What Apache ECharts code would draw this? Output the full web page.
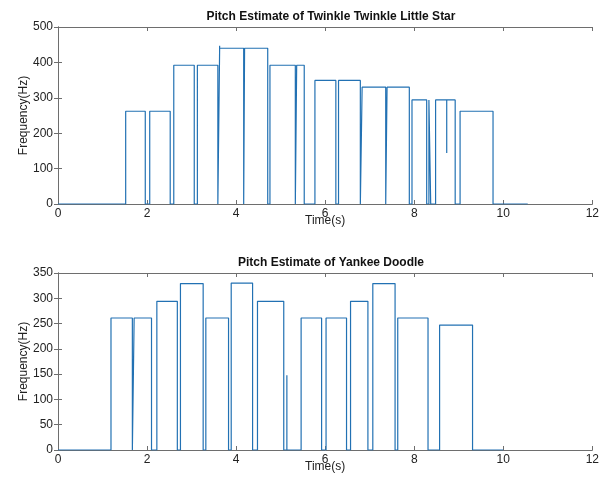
<!DOCTYPE html>
<html>
<head>
<meta charset="utf-8">
<script src="https://cdn.jsdelivr.net/npm/echarts@6/dist/echarts.min.js"></script>
<style>
html, body { margin: 0; padding: 0; background: #fff; }
#chartDom { width: 602px; height: 477px; }
</style>
</head>
<body>
<div id="chartDom"></div>
<script>
// note onsets / offsets (s) and pitch (Hz)
var twinkleOn  = [1.52, 2.06, 2.60, 3.13, 3.63, 4.19, 4.76, 5.36, 5.77, 6.30, 6.83, 7.39, 7.95, 8.33, 8.48, 9.03];
var twinkleOff = [1.96, 2.52, 3.06, 3.59, 4.17, 4.71, 5.33, 5.53, 6.24, 6.79, 7.36, 7.89, 8.28, 8.37, 8.92, 9.77];
var twinkleHz  = [262, 262, 392, 392, 440, 440, 392, 392, 349, 349, 330, 330, 294, 294, 294, 262];
var twinkleGlitchT  = [3.63, 8.73];
var twinkleGlitchHz = [447, 144];
var twinkleEnd = 10.55;

var yankeeOn  = [1.19, 1.71, 2.22, 2.75, 3.32, 3.89, 4.48, 5.46, 6.02, 6.57, 7.07, 7.63, 8.57];
var yankeeOff = [1.67, 2.10, 2.68, 3.26, 3.83, 4.37, 5.07, 5.92, 6.48, 6.96, 7.57, 8.31, 9.31];
var yankeeHz  = [261, 261, 294, 329, 261, 330, 294, 261, 261, 294, 329, 261, 247];
var yankeeGlitchT  = [5.14];
var yankeeGlitchHz = [148];
var yankeeEnd = 10.0;

var xTicks = [0, 2, 4, 6, 8, 10, 12];

var myChart = echarts.init(document.getElementById('chartDom'));

// turn the notes into a step trace that drops to 0 between notes
function buildTrace(on, off, hz, gT, gHz, end) {
    var pts = [[0, 0]];
    var events = [];
    for (var i = 0; i < on.length; i++) events.push({ t: on[i], k: 'note', i: i });
    for (var j = 0; j < gT.length; j++) events.push({ t: gT[j] + 0.0001, k: 'glitch', i: j });
    events.sort(function (a, b) { return a.t - b.t; });
    var level = 0, curOff = -1;
    events.forEach(function (e) {
        if (curOff >= 0 && e.t > curOff) {
            pts.push([curOff, level], [curOff, 0]);
            level = 0; curOff = -1;
        }
        if (e.k === 'note') {
            pts.push([on[e.i], 0], [on[e.i], hz[e.i]]);
            level = hz[e.i]; curOff = off[e.i];
        } else {
            var t = gT[e.i];
            pts.push([t, level], [t, gHz[e.i]], [t, level]);
        }
    });
    if (curOff >= 0) pts.push([curOff, level], [curOff, 0]);
    pts.push([end, 0]);
    return pts;
}

var lineColor = '#2271b3';
var axisColor = '#6e6e6e';
var textColor = '#222';
var font = 'Liberation Sans';

function xAx(grid, bottom) {
    return {
        type: 'value', gridIndex: grid, min: 0, max: 12, interval: 2,
        position: bottom ? 'bottom' : 'top',
        name: bottom ? 'Time(s)' : '', nameLocation: 'middle', nameGap: 11,
        nameMoveOverlap: false,
        nameTextStyle: { color: textColor, fontSize: 12, fontFamily: font },
        axisLine: { show: true, onZero: false, lineStyle: { color: axisColor } },
        axisTick: { show: true, inside: true, length: 4, lineStyle: { color: axisColor } },
        axisLabel: { show: bottom, color: textColor, fontSize: 12, fontFamily: font, margin: 4,
            formatter: function (v) { return xTicks.indexOf(v) >= 0 ? String(v) : ''; } },
        splitLine: { show: false }
    };
}
function yAx(grid, max, step, left) {
    return {
        type: 'value', gridIndex: grid, min: 0, max: max, interval: step,
        position: left ? 'left' : 'right',
        name: left ? 'Frequency(Hz)' : '', nameLocation: 'middle', nameGap: 28,
        nameMoveOverlap: false,
        nameTextStyle: { color: textColor, fontSize: 12, fontFamily: font },
        axisLine: { show: true, lineStyle: { color: axisColor } },
        axisTick: { show: true, inside: true, length: 4, lineStyle: { color: axisColor } },
        axisLabel: { show: left, color: textColor, fontSize: 12, fontFamily: font, margin: 5 },
        splitLine: { show: false }
    };
}

var option = {
    backgroundColor: '#fff',
    animation: false,
    title: [
        { text: 'Pitch Estimate of Twinkle Twinkle Little Star', left: 326, top: 6, textAlign: 'center',
          textStyle: { fontSize: 12, fontWeight: 'bold', color: '#111', fontFamily: font } },
        { text: 'Pitch Estimate of Yankee Doodle', left: 326, top: 252, textAlign: 'center',
          textStyle: { fontSize: 12, fontWeight: 'bold', color: '#111', fontFamily: font } }
    ],
    grid: [
        { left: 58, right: 8, top: 27, height: 177 },
        { left: 58, right: 8, top: 273, height: 177 }
    ],
    xAxis: [xAx(0, true), xAx(1, true), xAx(0, false), xAx(1, false)],
    yAxis: [yAx(0, 500, 100, true), yAx(1, 350, 50, true), yAx(0, 500, 100, false), yAx(1, 350, 50, false)],
    series: [
        { type: 'line', xAxisIndex: 0, yAxisIndex: 0, showSymbol: false, symbol: 'none',
          lineStyle: { color: lineColor, width: 1.2 },
          data: buildTrace(twinkleOn, twinkleOff, twinkleHz, twinkleGlitchT, twinkleGlitchHz, twinkleEnd) },
        { type: 'line', xAxisIndex: 1, yAxisIndex: 1, showSymbol: false, symbol: 'none',
          lineStyle: { color: lineColor, width: 1.2 },
          data: buildTrace(yankeeOn, yankeeOff, yankeeHz, yankeeGlitchT, yankeeGlitchHz, yankeeEnd) }
    ]
};

myChart.setOption(option);
</script>
</body>
</html>
